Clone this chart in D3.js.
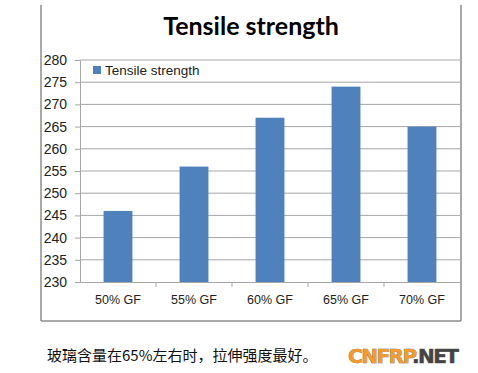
<!DOCTYPE html>
<html>
<head>
<meta charset="utf-8">
<script src="https://cdn.jsdelivr.net/npm/d3@7"></script>
<style>
  body { margin: 0; background: #fff; }
  svg { display: block; }
</style>
</head>
<body>
<div id="chart"></div>
<script>
const categories = ["50% GF", "55% GF", "60% GF", "65% GF", "70% GF"];
const values = [246, 256, 267, 274, 265];
const yTicks = [230, 235, 240, 245, 250, 255, 260, 265, 270, 275, 280];
const seriesName = "Tensile strength";
const caption = "玻璃含量在65%左右时，拉伸强度最好。";

const W = 478, H = 373;
const svg = d3.select("#chart").append("svg")
  .attr("width", W).attr("height", H);

// outer chart frame (top edge cropped)
const frame = svg.append("g").attr("stroke", "#8c8c8c").attr("stroke-width", 1.5);
frame.append("line").attr("x1", 41).attr("x2", 41).attr("y1", 5).attr("y2", 321);
frame.append("line").attr("x1", 461).attr("x2", 461).attr("y1", 5).attr("y2", 321);
frame.append("line").attr("x1", 41).attr("x2", 461).attr("y1", 321).attr("y2", 321);

svg.append("text")
  .attr("x", 251).attr("y", 35)
  .attr("text-anchor", "middle")
  .style("font-family", "Lato, 'Open Sans', sans-serif")
  .style("font-weight", "bold")
  .style("font-size", "25px")
  .text("Tensile strength");

const plotL = 80, plotR = 460, plotT = 60, plotB = 282;

const x = d3.scaleBand().domain(categories).range([plotL, plotR]).padding(0);
const y = d3.scaleLinear().domain([230, 280]).range([plotB, plotT]);

// gridlines
svg.append("g")
  .selectAll("line")
  .data(yTicks.slice(1))
  .join("line")
  .attr("x1", plotL).attr("x2", plotR)
  .attr("y1", d => y(d)).attr("y2", d => y(d))
  .attr("stroke", "#a6a6a6").attr("stroke-width", 1);

// y axis
const yAxis = svg.append("g")
  .attr("transform", `translate(${plotL},0)`)
  .call(d3.axisLeft(y).tickValues(yTicks).tickSize(5).tickPadding(8));
yAxis.selectAll("text")
  .style("font-family", "'Liberation Sans', Arial, sans-serif")
  .style("font-size", "14px")
  .attr("fill", "#222");
yAxis.selectAll("line, path").attr("stroke", "#a6a6a6");

// x axis
const xAxis = svg.append("g")
  .attr("transform", `translate(0,${plotB})`)
  .call(d3.axisBottom(x).tickSize(0).tickPadding(13));
xAxis.select("path").attr("stroke", "#a6a6a6");
xAxis.selectAll("text")
  .style("font-family", "'Liberation Sans', Arial, sans-serif")
  .style("font-size", "12.5px")
  .attr("fill", "#222");
// category separators
svg.append("g")
  .selectAll("line")
  .data(categories.slice(1))
  .join("line")
  .attr("x1", d => x(d)).attr("x2", d => x(d))
  .attr("y1", plotB).attr("y2", plotB + 5)
  .attr("stroke", "#a6a6a6");

// bars
const barW = x.bandwidth() * 0.38;
svg.append("g")
  .selectAll("rect")
  .data(values)
  .join("rect")
  .attr("x", (d, i) => x(categories[i]) + (x.bandwidth() - barW) / 2)
  .attr("y", d => y(d))
  .attr("width", barW)
  .attr("height", d => plotB - y(d))
  .attr("fill", "#4f81bd");

// legend
const legend = svg.append("g").attr("transform", "translate(93,66)");
legend.append("rect").attr("width", 8).attr("height", 8).attr("fill", "#4f81bd");
legend.append("text")
  .attr("x", 12).attr("y", 9)
  .style("font-family", "'Liberation Sans', Arial, sans-serif")
  .style("font-size", "13.5px")
  .attr("fill", "#222")
  .text(seriesName);

// caption
svg.append("text")
  .attr("x", 47).attr("y", 361)
  .style("font-family", "'Noto Sans CJK SC', sans-serif")
  .style("font-size", "15px")
  .attr("fill", "#111")
  .text(caption);

// watermark
const wm = svg.append("text")
  .attr("x", 348).attr("y", 363)
  .style("font-family", "'DejaVu Sans', sans-serif")
  .style("font-weight", "bold")
  .style("font-size", "20px")
  .attr("textLength", 111)
  .attr("stroke", "#555").attr("stroke-width", 0.6)
  .style("paint-order", "stroke");
wm.append("tspan").attr("fill", "#f39a2b").text("CNFRP");
wm.append("tspan").attr("fill", "#444").text(".NET");
</script>
</body>
</html>
